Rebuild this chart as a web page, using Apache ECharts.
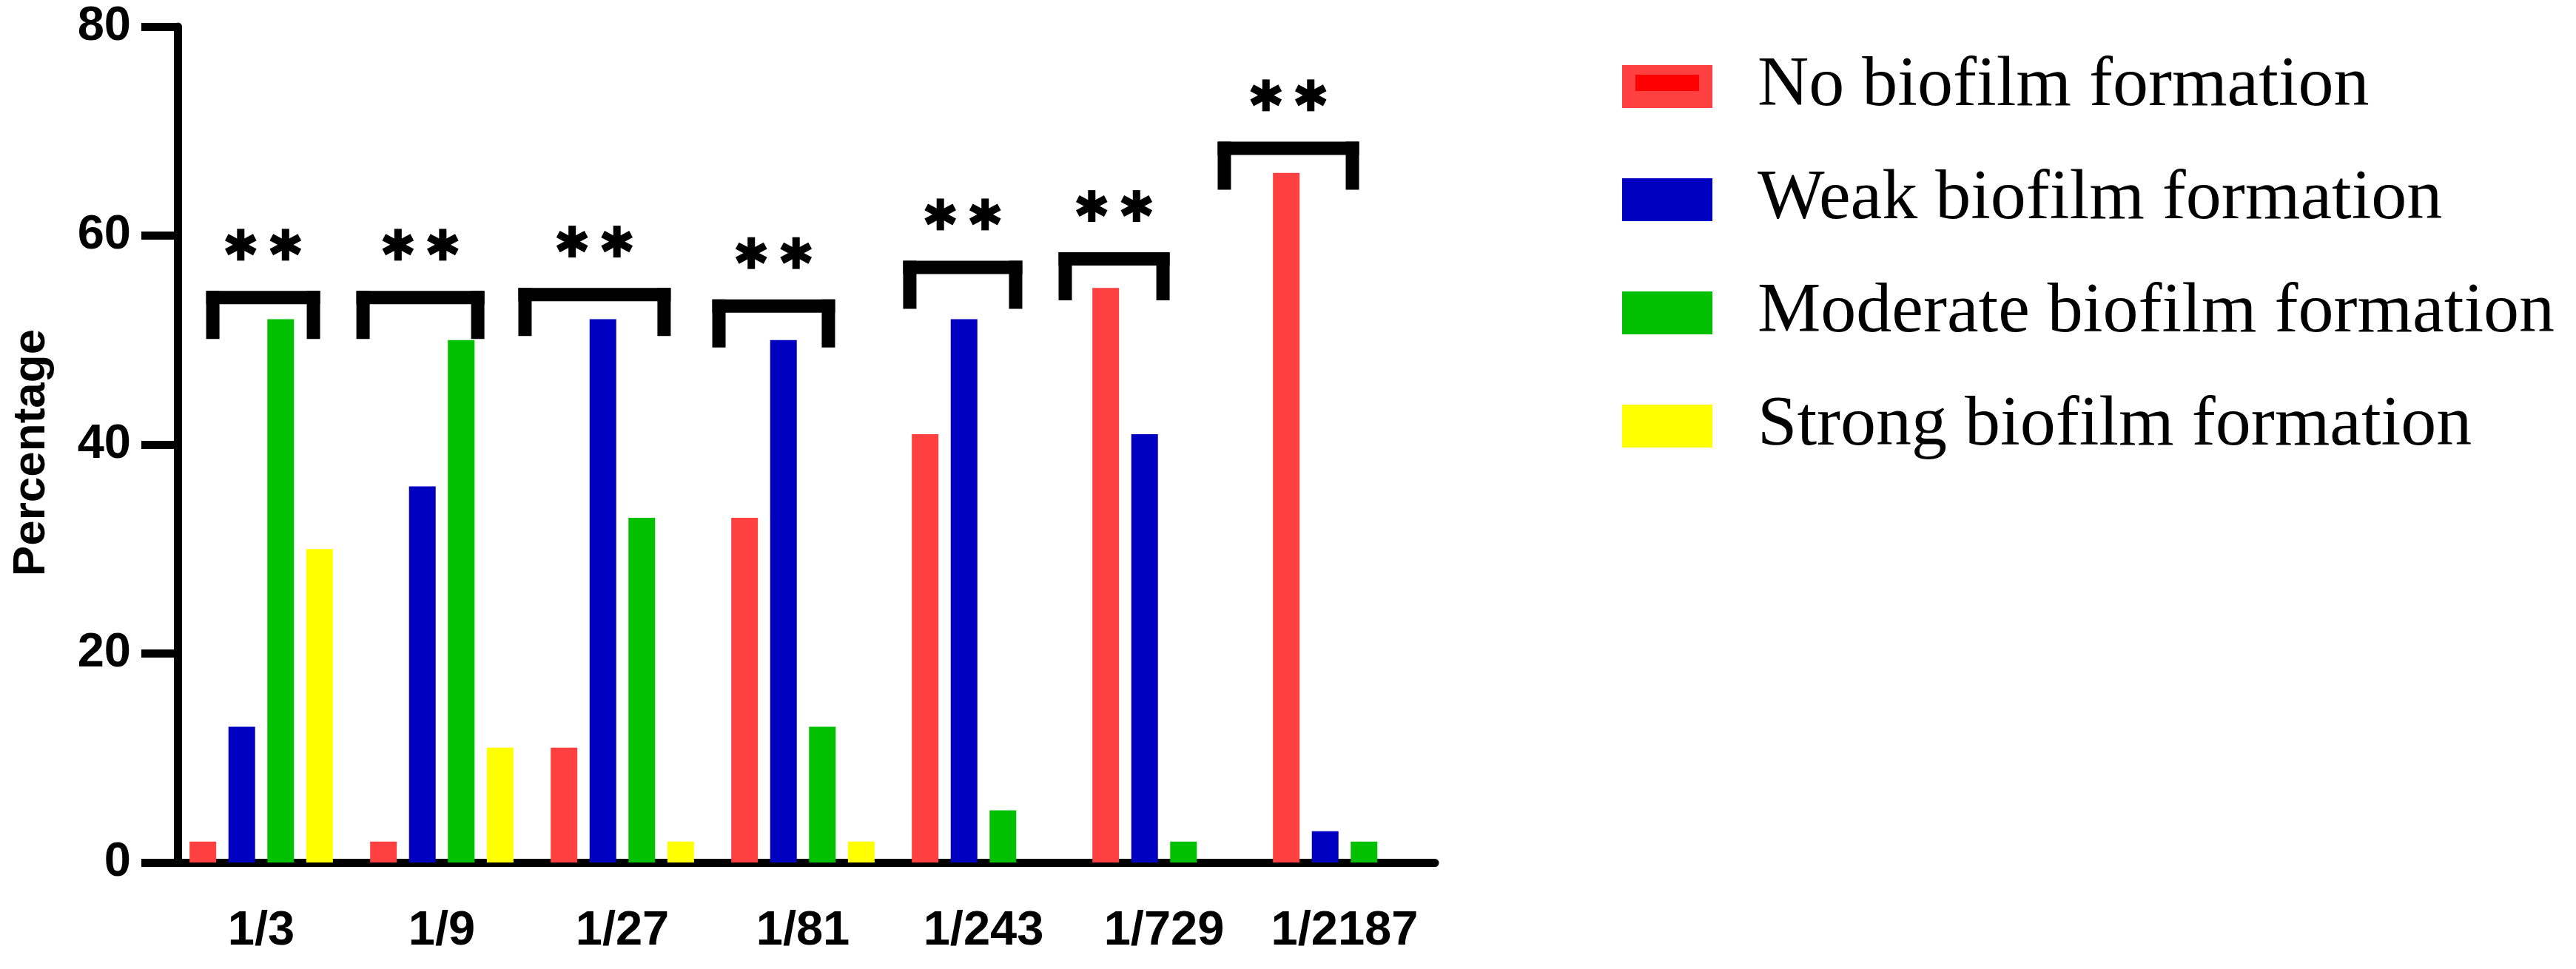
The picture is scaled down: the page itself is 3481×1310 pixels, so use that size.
<!DOCTYPE html>
<html>
<head>
<meta charset="utf-8">
<script src="https://cdn.jsdelivr.net/npm/echarts@6/dist/echarts.min.js"></script>
<style>
  html, body { margin: 0; padding: 0; background: #fff; }
  #chart { width: 3481px; height: 1310px; }
</style>
</head>
<body>
<div id="chart"></div>
<script>
// dilutions on the x axis
const dilutions = ['1/3', '1/9', '1/27', '1/81', '1/243', '1/729', '1/2187'];

// percentage of isolates per class
const noBiofilm = [2, 2, 11, 33, 41, 55, 66];
const weakBiofilm = [13, 36, 52, 50, 52, 41, 3];
const moderateBiofilm = [52, 50, 33, 13, 5, 2, 2];
const strongBiofilm = [30, 11, 2, 2, 0, 0, 0];

const seriesNames = [
  'No biofilm formation',
  'Weak biofilm formation',
  'Moderate biofilm formation',
  'Strong biofilm formation'
];

const yTicks = [0, 20, 40, 60, 80];

// significance brackets: top edge (value), span (in category units from centre)
const bracketTop = [54.7, 54.7, 55.0, 53.9, 57.6, 58.4, 69.0];
const bracketFrom = [-0.305, -0.473, -0.576, -0.502, -0.445, -0.584, -0.703];
const bracketTo = [0.326, 0.236, 0.268, 0.178, 0.215, 0.031, 0.080];
const significance = [2, 2, 2, 2, 2, 2, 2]; // number of asterisks

const colors = ['#FF4040', '#0000C0', '#00C000', '#FFFF00'];

const chart = echarts.init(document.getElementById('chart'));

const barSeries = [noBiofilm, weakBiofilm, moderateBiofilm, strongBiofilm].map((vals, i) => ({
  name: seriesNames[i],
  type: 'bar',
  data: vals,
  barWidth: 36,
  barGap: '46%',
  itemStyle: { color: colors[i] },
  z: 2
}));

// six-armed asterisk made of three strokes
function asterisk(cx, cy, r) {
  const arms = [90, 28, -28];
  return arms.map(a => {
    const rad = a * Math.PI / 180;
    const dx = Math.cos(rad) * r, dy = Math.sin(rad) * r;
    return {
      type: 'line',
      shape: { x1: cx - dx, y1: cy - dy, x2: cx + dx, y2: cy + dy },
      style: { stroke: '#000', lineWidth: 10 }
    };
  });
}

// brackets + stars drawn over the bars
function renderBracket(params, api) {
  const idx = api.value(0);
  const top = api.coord([idx, api.value(1)]);
  const band = api.size([1, 0])[0];
  const x0 = top[0] + api.value(2) * band;
  const x1 = top[0] + api.value(3) * band;
  const y = top[1];
  const th = 18, leg = 65;
  const mid = (x0 + x1) / 2;
  const n = significance[idx];
  let children = [
    { type: 'rect', shape: { x: x0, y: y, width: x1 - x0, height: th }, style: { fill: '#000' } },
    { type: 'rect', shape: { x: x0, y: y, width: th, height: leg }, style: { fill: '#000' } },
    { type: 'rect', shape: { x: x1 - th, y: y, width: th, height: leg }, style: { fill: '#000' } }
  ];
  for (let k = 0; k < n; k++) {
    const off = (k - (n - 1) / 2) * 60.5;
    children = children.concat(asterisk(mid + off, y - 62.5, 21.5));
  }
  return { type: 'group', children: children };
}

const option = {
  backgroundColor: '#fff',
  animation: false,
  grid: { left: 231, right: 1542, top: 36, bottom: 144 },
  legend: {
    data: seriesNames,
    orient: 'vertical',
    left: 2192,
    top: 69,
    padding: 0,
    itemWidth: 122,
    itemHeight: 58,
    itemGap: 57,
    icon: 'rect',
    selectedMode: false,
    textStyle: {
      fontFamily: '"Liberation Serif", "Times New Roman", serif',
      fontSize: 96,
      color: '#000',
      padding: [0, 0, 0, 56]
    }
  },
  graphic: [
    // darker inner patch seen inside the first legend swatch
    { type: 'rect', left: 2210, top: 101, shape: { width: 86, height: 22 }, style: { fill: '#FF0000' }, z: 100 }
  ],
  xAxis: {
    type: 'category',
    data: dilutions,
    axisLine: { lineStyle: { color: '#000', width: 11 } },
    axisTick: { alignWithLabel: true, length: 49, lineStyle: { color: '#000', width: 11 } },
    axisLabel: {
      interval: 0,
      margin: 61,
      color: '#000',
      fontFamily: '"Liberation Sans", Arial, sans-serif',
      fontWeight: 'bold',
      fontSize: 65
    }
  },
  yAxis: {
    type: 'value',
    min: yTicks[0],
    max: yTicks[yTicks.length - 1],
    interval: 20,
    offset: -9,
    name: 'Percentage',
    nameLocation: 'middle',
    nameGap: 166,
    nameTextStyle: {
      color: '#000',
      fontFamily: '"Liberation Sans", Arial, sans-serif',
      fontWeight: 'bold',
      fontSize: 62,
      padding: [0, 22, 0, 0]
    },
    splitLine: { show: false },
    axisLine: { show: true, lineStyle: { color: '#000', width: 11 } },
    axisTick: { show: true, length: 49, lineStyle: { color: '#000', width: 11 } },
    axisLabel: {
      margin: 63,
      color: '#000',
      fontFamily: '"Liberation Sans", Arial, sans-serif',
      fontWeight: 'bold',
      fontSize: 65
    }
  },
  series: barSeries.concat([{
    type: 'custom',
    renderItem: renderBracket,
    data: dilutions.map((d, i) => [i, bracketTop[i], bracketFrom[i], bracketTo[i]]),
    encode: { x: 0, y: 1 },
    silent: true,
    z: 5
  }])
};

chart.setOption(option);
</script>
</body>
</html>
